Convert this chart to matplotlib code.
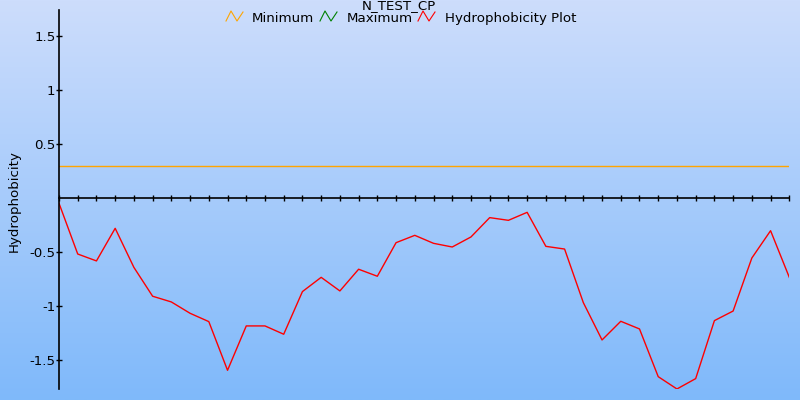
import numpy as np
import matplotlib
matplotlib.use("Agg")
import matplotlib.pyplot as plt
from matplotlib.lines import Line2D

plt.rcParams['font.family'] = ['DejaVu Sans']

title = "N_TEST_CP"
y_label = "Hydrophobicity"
legend_labels = ["Minimum", "Maximum", "Hydrophobicity Plot"]
series_colors = ["#ffa500", "#008000", "#ff0000"]

hydro = [-0.046, -0.516, -0.58, -0.278, -0.64, -0.907, -0.96, -1.065, -1.142, -1.593,
         -1.182, -1.182, -1.259, -0.864, -0.732, -0.858, -0.657, -0.722, -0.411, -0.343,
         -0.417, -0.451, -0.358, -0.179, -0.204, -0.13, -0.445, -0.47, -0.966, -1.312,
         -1.139, -1.21, -1.652, -1.766, -1.67, -1.133, -1.044, -0.553, -0.30, -0.732]
minimum_value = 0.30
positions = list(range(len(hydro)))
y_ticks = [-1.5, -1, -0.5, 0.5, 1, 1.5]
y_tick_labels = ["-1.5", "-1", "-0.5", "0.5", "1", "1.5"]

W, H = 800, 400
FS = 9.6
fig = plt.figure(figsize=(8, 4), dpi=100)

# background gradient
bg = fig.add_axes([0, 0, 1, 1], zorder=-10)
top = np.array([205, 221, 252]) / 255.0
bot = np.array([127, 185, 250]) / 255.0
t = np.linspace(0, 1, 256)[:, None]
grad = (top[None, :] * (1 - t) + bot[None, :] * t)[:, None, :]
bg.imshow(grad, aspect='auto', extent=[0, 1, 0, 1], origin='upper')
bg.set_axis_off()

left, right = 59 / W, 789.3 / W
bottom, topy = 1 - 389.3 / H, 1 - 10 / H
ax = fig.add_axes([left, bottom, right - left, topy - bottom])
ax.patch.set_alpha(0)

ax.plot(positions, [minimum_value] * len(positions), color=series_colors[0], lw=1.0)
ax.plot(positions, hydro, color=series_colors[2], lw=1.0)

ax.set_xlim(positions[0], positions[-1])
ax.set_ylim(-1.769, 1.744)

for s in ['top', 'right']:
    ax.spines[s].set_visible(False)
ax.spines['bottom'].set_position(('data', 0))
ax.spines['left'].set_linewidth(1.2)
ax.spines['bottom'].set_linewidth(1.2)

ax.set_xticks(positions)
ax.set_xticklabels([])
ax.tick_params(axis='x', direction='inout', length=5, width=1.0)
ax.set_yticks(y_ticks)
ax.set_yticklabels(y_tick_labels)
ax.tick_params(axis='y', direction='inout', length=5, width=1.0, pad=0, labelsize=FS)

fig.text(14 / W, 1 - 201 / H, y_label, rotation=90, ha='center', va='center', fontsize=FS)
fig.text(399 / W, 1 - 9.5 / H, title, ha='center', va='baseline', fontsize=FS)

# legend
icon_x = [226, 320, 418]
text_x = [252, 347, 445]
for ix, tx, lab, col in zip(icon_x, text_x, legend_labels, series_colors):
    xs = np.array([0, 5, 11, 17]) + ix
    ys = np.array([21, 11, 21, 12])
    fig.add_artist(Line2D(xs / W, 1 - ys / H, color=col, lw=0.8, transform=fig.transFigure))
    fig.text(tx / W, 1 - 22 / H, lab, ha='left', va='baseline', fontsize=FS)

fig.savefig("out.png", dpi=100)
